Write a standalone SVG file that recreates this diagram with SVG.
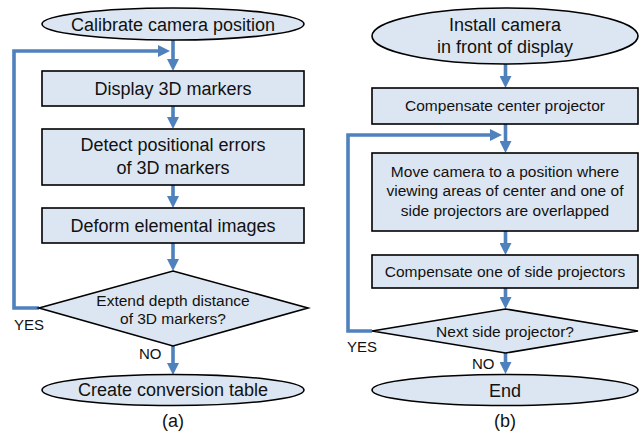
<svg xmlns="http://www.w3.org/2000/svg" width="641" height="434" viewBox="0 0 641 434">
<style>
.n{fill:#dce6f2;stroke:#000;stroke-width:1.6}
.t{font-family:"Liberation Sans",Arial,sans-serif;fill:#111;text-anchor:middle}
.l{font-size:18px}
.s{font-size:15.5px}
.y{font-family:"Liberation Sans",Arial,sans-serif;fill:#111;font-size:15px}
.c{fill:none;stroke:#4f81bd;stroke-width:3.6;marker-end:url(#ah)}
</style>
<defs>
<marker id="ah" markerUnits="userSpaceOnUse" markerWidth="12" markerHeight="12" refX="2" refY="6" orient="auto">
<path d="M0,0 L12,6 L0,12 z" fill="#4f81bd"/>
</marker>
</defs>
<rect width="641" height="434" fill="#fff"/>
<g id="connectors">
<path class="c" d="M173,40 V61"/>
<path class="c" d="M173,106 V119"/>
<path class="c" d="M173,185 V198"/>
<path class="c" d="M173,243 V261"/>
<path class="c" d="M173,346 V365"/>
<path class="c" d="M39,308 H14 V51 H160"/>
<path class="c" d="M505.5,64 V78"/>
<path class="c" d="M505.5,124 V143"/>
<path class="c" d="M505.5,231 V245"/>
<path class="c" d="M505.5,288 V299"/>
<path class="c" d="M505.5,353 V364"/>
<path class="c" d="M372,331 H348 V135 H492"/>
</g>
<g id="a-start"><ellipse class="n" cx="173" cy="24" rx="131" ry="16"/><text class="t l" x="173" y="30.5">Calibrate camera position</text></g>
<g id="a-display"><rect class="n" x="42" y="71" width="262" height="35"/><text class="t l" x="173" y="95">Display 3D markers</text></g>
<g id="a-detect"><rect class="n" x="42" y="129" width="262" height="56"/><text class="t l" x="173" y="151">Detect positional errors</text><text class="t l" x="173" y="173.5">of 3D markers</text></g>
<g id="a-deform"><rect class="n" x="42" y="208" width="262" height="35"/><text class="t l" x="173" y="232">Deform elemental images</text></g>
<g id="a-decision"><polygon class="n" points="173,271 308,308 173,346 39,308"/><text class="t s" x="173" y="305.5">Extend depth distance</text><text class="t s" x="173" y="323.5">of 3D markers?</text></g>
<g id="a-end"><ellipse class="n" cx="173" cy="390" rx="131" ry="15.5"/><text class="t l" x="173" y="396">Create conversion table</text></g>
<text class="y" x="14" y="330">YES</text>
<text class="y" x="139" y="358.5">NO</text>
<text class="t l" x="173" y="427">(a)</text>
<g id="b-start"><ellipse class="n" cx="505" cy="36" rx="133" ry="28"/><text class="t l" x="505" y="30.5">Install camera</text><text class="t l" x="505" y="53">in front of display</text></g>
<g id="b-center"><rect class="n" x="372" y="88" width="266" height="36"/><text class="t s" x="505" y="111">Compensate center projector</text></g>
<g id="b-move"><rect class="n" x="372" y="153" width="266" height="78"/><text class="t s" x="505" y="176.5">Move camera to a position where</text><text class="t s" x="505" y="196.3">viewing areas of center and one of</text><text class="t s" x="505" y="216">side projectors are overlapped</text></g>
<g id="b-side"><rect class="n" x="372" y="255" width="266" height="33"/><text class="t s" x="505" y="276.5">Compensate one of side projectors</text></g>
<g id="b-decision"><polygon class="n" points="505.5,309 638,331 505.5,353 372,331"/><text class="t s" x="505" y="336.5">Next side projector?</text></g>
<g id="b-end"><ellipse class="n" cx="505" cy="390" rx="133" ry="15.5"/><text class="t l" x="505" y="396.5">End</text></g>
<text class="y" x="347" y="352">YES</text>
<text class="y" x="472" y="368.5">NO</text>
<text class="t l" x="505" y="427">(b)</text>
</svg>
